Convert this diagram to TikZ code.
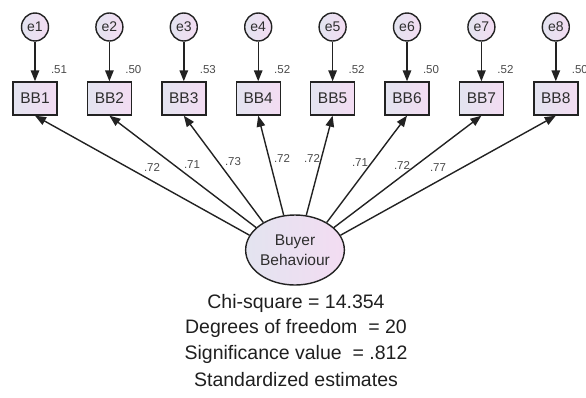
\documentclass[tikz,border=0pt]{standalone}
\usepackage{fontspec}
\setmainfont{Liberation Sans}
\usetikzlibrary{arrows.meta,shapes.geometric}
\definecolor{edge}{HTML}{222222}
\definecolor{fillL}{HTML}{E3E4F0}
\definecolor{fillR}{HTML}{F3DCF2}
\definecolor{txt}{HTML}{2E2E2E}
\definecolor{est}{HTML}{4A4A4A}
\begin{document}
\begin{tikzpicture}[x=1pt,y=-1pt,
  shaded/.style={draw=edge, line width=1.4pt, left color=fillL, right color=fillR, text=txt, inner sep=0pt},
  errnode/.style={shaded, ellipse, minimum width=27pt, minimum height=28pt, font=\fontsize{14}{14}\selectfont},
  obsbox/.style={shaded, rectangle, minimum width=44pt, minimum height=33pt, font=\fontsize{15.5}{15.5}\selectfont},
  latent/.style={shaded, ellipse, minimum width=98pt, minimum height=70pt, align=center, font=\fontsize{15.5}{20}\selectfont},
  link/.style={draw=edge, line width=1.4pt, -{Triangle[length=11pt,width=8.5pt]}},
  estlbl/.style={text=est, inner sep=0pt, font=\fontsize{11.5}{11.5}\selectfont},
  fitline/.style={text=black!88, inner sep=0pt, font=\fontsize{19.5}{19.5}\selectfont}]
\useasboundingbox (0,0) rectangle (586,397);

% latent factor
\node[latent] (bb) at (295,250) {Buyer\\Behaviour};

% indicators, their error terms and loadings
\foreach \i/\r/\ang/\lam/\lx/\ly in {
  1/.51/162/.72/152/167,
  2/.50/150/.71/192/165,
  3/.53/139/.73/233/162,
  4/.52/108/.72/282/158,
  5/.52/72/.72/312/158,
  6/.50/41/.71/360/163,
  7/.52/30/.72/402/165,
  8/.50/18/.77/438/168}{
  \pgfmathsetmacro{\xx}{35+(\i-1)*74.4}
  \node[errnode] (e\i) at (\xx,27) {e\i};
  \node[obsbox] (b\i) at (\xx,98.5) {BB\i};
  \draw[link] (e\i) -- (b\i);
  \node[estlbl] (r\i) at (\xx+24,70) {\r};
  \draw[link] (bb.\ang) -- (b\i.south);
  \node[estlbl] (l\i) at (\lx,\ly) {\lam};
}

% fit summary
\node[fitline] (t1) at (296,303) {Chi-square = 14.354};
\node[fitline] (t2) at (296,328.5) {Degrees of freedom \ = 20};
\node[fitline] (t3) at (296,354) {Significance value \ = .812};
\node[fitline] (t4) at (296,380) {Standardized estimates};
\end{tikzpicture}
\end{document}
